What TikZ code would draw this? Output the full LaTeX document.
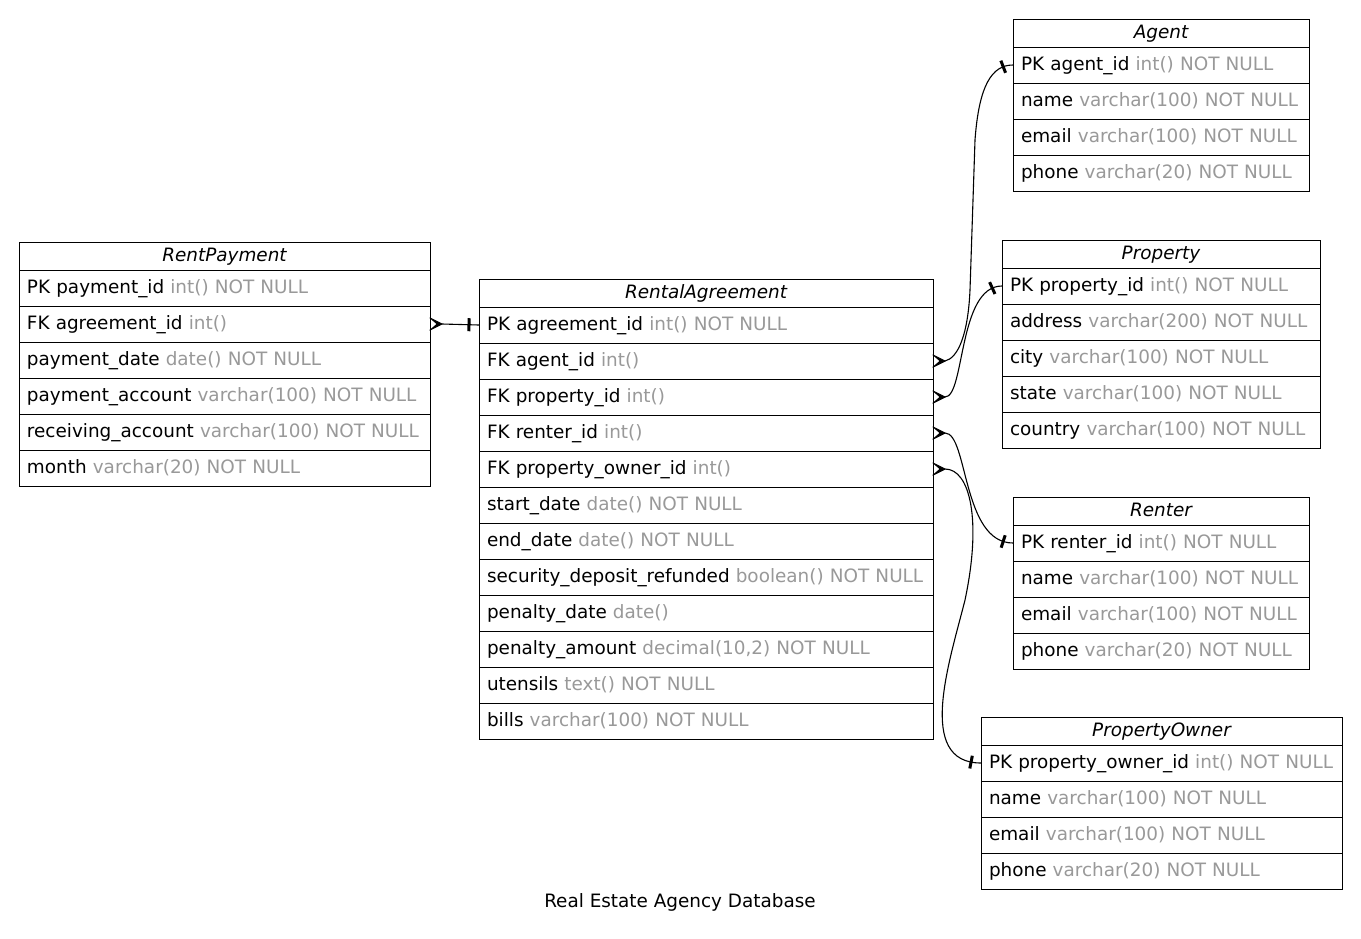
\documentclass[tikz,border=0pt]{standalone}
\usepackage{fontspec}
\setmainfont{DejaVu Sans}
\usetikzlibrary{calc,decorations.markings}

\definecolor{typegray}{RGB}{153,153,153}
\newcommand\erdfont{\fontsize{18.4pt}{22pt}\selectfont}
\newcommand\dtype[1]{{\color{typegray}#1}}

\tikzset{
  erdhead/.style={draw, line width=1pt, anchor=north west, minimum height=28pt,
    inner xsep=8pt, inner ysep=0pt, outer sep=0pt, align=center,
    text height=14pt, text depth=4pt, font=\erdfont\itshape},
  erdrow/.style={draw, line width=1pt, anchor=north west, minimum height=36pt,
    inner xsep=8pt, inner ysep=0pt, outer sep=0pt, align=left,
    text height=14pt, text depth=4pt, font=\erdfont},
  rel/.style={line width=1.1pt},
  onebar/.style={postaction={decorate, decoration={markings,
    mark=at position -10pt with {\draw[line width=3pt] (0,-6.5) -- (0,6.5);}}}},
  pics/crowfoot/.style={code={\fill (0,0) -- (-13,-6.5) -- (-5.5,0) -- (-13,6.5) -- cycle;
    \draw[line width=1.1pt] (0,0) -- (-12,-6) (0,0) -- (-12,6);}}
}

% #1 name, #2 left x, #3 top y, #4 text width, #5 title, #6 rows
\newcommand\erdtable[6]{%
  \node[erdhead, text width=#4pt] (#1) at (#2,#3) {#5};
  \foreach \txt [count=\n] in {#6}{
    \node[erdrow, text width=#4pt] (#1-\n) at (#2,{#3+28+36*(\n-1)}) {\mbox{\txt}};
  }
}

\begin{document}
\begin{tikzpicture}[x=1pt, y=-1pt]
  \fill[white] (0,0) rectangle (1361,938);
  \useasboundingbox (0,0) rectangle (1361,938);

  \erdtable{rp}{19}{242}{395}{RentPayment}{
    PK payment\_id \dtype{int() NOT NULL},
    FK agreement\_id \dtype{int()},
    payment\_date \dtype{date() NOT NULL},
    payment\_account \dtype{varchar(100) NOT NULL},
    receiving\_account \dtype{varchar(100) NOT NULL},
    month \dtype{varchar(20) NOT NULL}}

  \erdtable{ra}{479}{279}{438}{RentalAgreement}{
    PK agreement\_id \dtype{int() NOT NULL},
    FK agent\_id \dtype{int()},
    FK property\_id \dtype{int()},
    FK renter\_id \dtype{int()},
    FK property\_owner\_id \dtype{int()},
    start\_date \dtype{date() NOT NULL},
    end\_date \dtype{date() NOT NULL},
    security\_deposit\_refunded \dtype{boolean() NOT NULL},
    penalty\_date \dtype{date()},
    {penalty\_amount \dtype{decimal(10,2) NOT NULL}},
    utensils \dtype{text() NOT NULL},
    bills \dtype{varchar(100) NOT NULL}}

  \erdtable{ag}{1013}{19}{280}{Agent}{
    PK agent\_id \dtype{int() NOT NULL},
    name \dtype{varchar(100) NOT NULL},
    email \dtype{varchar(100) NOT NULL},
    phone \dtype{varchar(20) NOT NULL}}

  \erdtable{pr}{1002}{240}{302}{Property}{
    PK property\_id \dtype{int() NOT NULL},
    address \dtype{varchar(200) NOT NULL},
    city \dtype{varchar(100) NOT NULL},
    state \dtype{varchar(100) NOT NULL},
    country \dtype{varchar(100) NOT NULL}}

  \erdtable{re}{1013}{497}{280}{Renter}{
    PK renter\_id \dtype{int() NOT NULL},
    name \dtype{varchar(100) NOT NULL},
    email \dtype{varchar(100) NOT NULL},
    phone \dtype{varchar(20) NOT NULL}}

  \erdtable{po}{981}{717}{345}{PropertyOwner}{
    PK property\_owner\_id \dtype{int() NOT NULL},
    name \dtype{varchar(100) NOT NULL},
    email \dtype{varchar(100) NOT NULL},
    phone \dtype{varchar(20) NOT NULL}}

  % many-to-one relations: crow's foot on the FK side, bar on the PK side
  \pic at ($(rp-2.east)+(12,0)$) {crowfoot};
  \draw[rel, onebar] ($(rp-2.east)+(12,0)$) -- (ra-1.west);

  \pic at ($(ra-2.east)+(12,0)$) {crowfoot};
  \draw[rel, onebar] ($(ra-2.east)+(12,0)$)
    .. controls (958,358) and (968,335) .. (970,290)
    -- (975,140)
    .. controls (979,85) and (992,65) .. (ag-1.west);

  \pic at ($(ra-3.east)+(12,0)$) {crowfoot};
  \draw[rel, onebar] ($(ra-3.east)+(12,0)$)
    .. controls (965,397) and (958,286) .. (pr-1.west);

  \pic at ($(ra-4.east)+(12,0)$) {crowfoot};
  \draw[rel, onebar] ($(ra-4.east)+(12,0)$)
    .. controls (968,433) and (962,543) .. (re-1.west);

  \pic at ($(ra-5.east)+(12,0)$) {crowfoot};
  \draw[rel, onebar] ($(ra-5.east)+(12,0)$)
    .. controls (970,469) and (982,520) .. (965,600)
    .. controls (950,660) and (915,763) .. (po-1.west);

  \node[font=\erdfont] (title) at (680,902) {Real Estate Agency Database};
\end{tikzpicture}
\end{document}
